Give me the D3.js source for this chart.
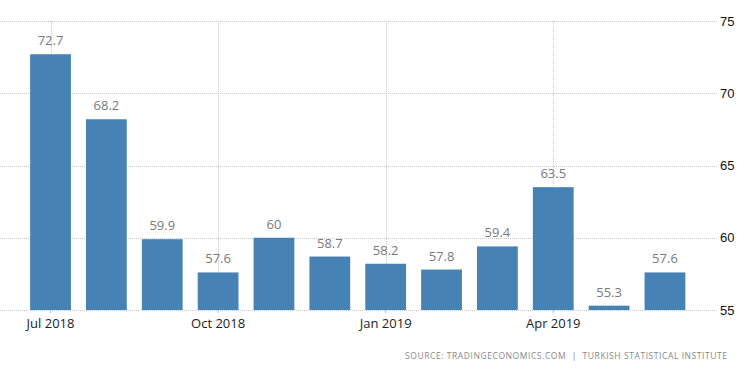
<!DOCTYPE html>
<html>
<head>
<meta charset="utf-8">
<script src="https://cdn.jsdelivr.net/npm/d3@7"></script>
<style>
  body { margin: 0; background: #fff; }
  svg { display: block; font-family: "Open Sans", "Noto Sans", sans-serif; }
</style>
</head>
<body>
<script>
const months = ["Jul 2018","Aug 2018","Sep 2018","Oct 2018","Nov 2018","Dec 2018",
                "Jan 2019","Feb 2019","Mar 2019","Apr 2019","May 2019","Jun 2019"];
const values = [72.7, 68.2, 59.9, 57.6, 60, 58.7, 58.2, 57.8, 59.4, 63.5, 55.3, 57.6];
const yTicks = [55, 60, 65, 70, 75];
const xLabelMonths = ["Jul 2018","Oct 2018","Jan 2019","Apr 2019"];
const source = "SOURCE: TRADINGECONOMICS.COM  |  TURKISH STATISTICAL INSTITUTE";

const W = 750, H = 373;

var svg = d3.select("body")
            .append("svg")
            .attr("width", W)
            .attr("height", H);

var yScale = d3.scaleLinear()
            .domain([55, 75])
            .range([310, 21]);

var xScale = d3.scaleBand()
            .domain(months)
            .range([22.6, 692.9])
            .paddingInner(0.27)
            .paddingOuter(0.135);

// horizontal grid
svg.append("g")
   .selectAll("line")
   .data(yTicks)
   .enter()
   .append("line")
   .attr("x1", 0)
   .attr("x2", 717)
   .attr("y1", d => Math.round(yScale(d)) + 0.5)
   .attr("y2", d => Math.round(yScale(d)) + 0.5)
   .attr("stroke", "#c8c8c8")
   .attr("stroke-dasharray", "1,1");

// vertical grid at labelled months
svg.append("g")
   .selectAll("line")
   .data(xLabelMonths)
   .enter()
   .append("line")
   .attr("x1", d => Math.round(xScale(d) + xScale.bandwidth() / 2) + 0.5)
   .attr("x2", d => Math.round(xScale(d) + xScale.bandwidth() / 2) + 0.5)
   .attr("y1", yScale(75))
   .attr("y2", yScale(55))
   .attr("stroke", "#c8c8c8")
   .attr("stroke-dasharray", "1,1");

// bars
svg.append("g")
   .selectAll("rect")
   .data(values)
   .enter()
   .append("rect")
   .attr("x", (d, i) => xScale(months[i]))
   .attr("y", d => yScale(d))
   .attr("width", xScale.bandwidth())
   .attr("height", d => yScale(55) - yScale(d))
   .attr("fill", "#4682b4");

// value labels
svg.append("g")
   .selectAll("text")
   .data(values)
   .enter()
   .append("text")
   .attr("x", (d, i) => xScale(months[i]) + xScale.bandwidth() / 2)
   .attr("y", d => yScale(d) - 9)
   .attr("text-anchor", "middle")
   .attr("font-size", "13px")
   .attr("fill", "#7a7a7a")
   .text(d => d);

// y axis on the right
svg.append("g")
   .attr("transform", "translate(717,0)")
   .call(d3.axisRight(yScale).tickValues(yTicks).tickSize(0).tickPadding(3))
   .call(g => g.select(".domain").remove())
   .call(g => g.selectAll("text").attr("font-size", "13px").attr("fill", "#111")
                .attr("font-family", "Liberation Sans, Arial, sans-serif"));

// x axis labels
var xAxis = svg.append("g")
   .attr("transform", `translate(0,${yScale(55)})`)
   .call(d3.axisBottom(xScale).tickValues(xLabelMonths).tickSize(3).tickPadding(6))
   .call(g => g.select(".domain").remove());
xAxis.selectAll("line").attr("stroke", "#bbb");
xAxis.selectAll("text").attr("font-size", "13px").attr("fill", "#222")
     .attr("font-family", "Open Sans, sans-serif");

// source
svg.append("text")
   .attr("x", 405)
   .attr("y", 359)
   .attr("font-size", "8.5px")
   .attr("textLength", 322)
   .attr("lengthAdjust", "spacing")
   .attr("fill", "#888")
   .style("white-space", "pre")
   .text(source);
</script>
</body>
</html>
